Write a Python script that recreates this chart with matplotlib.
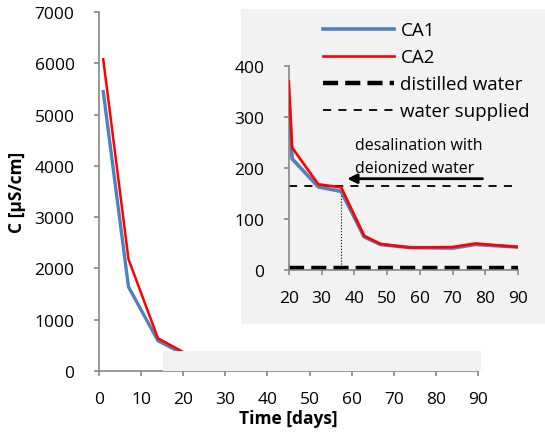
import matplotlib.pyplot as plt
from matplotlib.patches import Rectangle

plt.rcParams['font.family'] = ['Open Sans', 'DejaVu Sans']

# conductivity readings (uS/cm)
days = [1, 7, 14, 20, 21, 29, 36, 43, 48, 57, 70, 77, 90]
ca1 = [5450, 1640, 590, 335, 218, 163, 154, 65, 50, 44, 43, 50, 45]
ca2 = [6080, 2180, 637, 370, 240, 168, 162, 67, 51, 44, 45, 52, 45]
distilled = 3
supplied = 164
switch_day = 36
inset_start = 3  # index of day 20, first point shown in the inset

main_xticks = list(range(0, 91, 10))
main_yticks = list(range(0, 7001, 1000))
inset_xticks = list(range(20, 91, 10))
inset_yticks = list(range(0, 401, 100))

blue = '#4f81bd'
red = '#ff0000'
grey = '#868686'
bg = '#f2f2f2'


def style_axes(a):
    for s in ['top', 'right']:
        a.spines[s].set_visible(False)
    for s in ['left', 'bottom']:
        a.spines[s].set_color(grey)
        a.spines[s].set_linewidth(1.2)
    a.tick_params(colors=grey, labelcolor='black', labelsize=12.5, length=3.6, width=1.2)
    a.tick_params(axis='y', pad=14)
    a.tick_params(axis='x', pad=11)


fig = plt.figure(figsize=(5.45, 4.35), dpi=100)

ax = fig.add_axes([0.1817, 0.1448, 0.6953, 0.8252])
ax.plot(days, ca1, color=blue, lw=2.4, zorder=3)
ax.plot(days, ca2, color=red, lw=1.8, zorder=4)
ax.set_xlim(0, 90)
ax.set_ylim(0, 7000)
ax.set_xticks(main_xticks)
ax.set_yticks(main_yticks)
style_axes(ax)
ax.set_xlabel('Time [days]', fontsize=12.5, fontweight='bold', labelpad=1)
ax.set_ylabel('C [µS/cm]', fontsize=12.5, fontweight='bold', labelpad=6)
# grey band covering the tail of the curves
ax.add_patch(Rectangle((15.2, 0), 75.5, 390, facecolor=bg, edgecolor='none',
                       zorder=5, clip_on=False))

# grey panel behind the inset
bgax = fig.add_axes([0.442, 0.253, 0.558, 0.724])
bgax.set_facecolor(bg)
bgax.set_xticks([])
bgax.set_yticks([])
for s in bgax.spines.values():
    s.set_visible(False)

ins = fig.add_axes([0.530, 0.377, 0.4205, 0.469])
ins.set_facecolor(bg)
l1, = ins.plot(days[inset_start:], ca1[inset_start:], color=blue, lw=2.6, zorder=3, label='CA1')
l2, = ins.plot(days[inset_start:], ca2[inset_start:], color=red, lw=1.9, zorder=4, label='CA2')
l3 = ins.axhline(distilled, color='black', lw=3.2, dashes=(3.4, 1.6), label='distilled water')
l4 = ins.axhline(supplied, color='black', lw=1.3, dashes=(4.5, 4), label='water supplied')
ins.plot([switch_day, switch_day], [0, ca1[days.index(switch_day)]], color='black',
         lw=0.8, ls=':')
ins.annotate('', xy=(37, 179), xytext=(80, 179),
             arrowprops=dict(arrowstyle='-|>', color='black', lw=2, mutation_scale=14))
ins.text(40.3, 222, 'desalination with\ndeionized water', fontsize=11.5,
         ha='left', va='center', linespacing=1.55)
ins.set_xlim(20, 90)
ins.set_ylim(0, 400)
ins.set_xticks(inset_xticks)
ins.set_yticks(inset_yticks)
style_axes(ins)

fig.legend(handles=[l1, l2, l3, l4], loc='upper left',
           bbox_to_anchor=(0.592, 0.949), frameon=False, fontsize=13.5,
           handlelength=3.8, handletextpad=0.35, labelspacing=0.48,
           borderpad=0, borderaxespad=0)

fig.savefig('out.png', dpi=100)
